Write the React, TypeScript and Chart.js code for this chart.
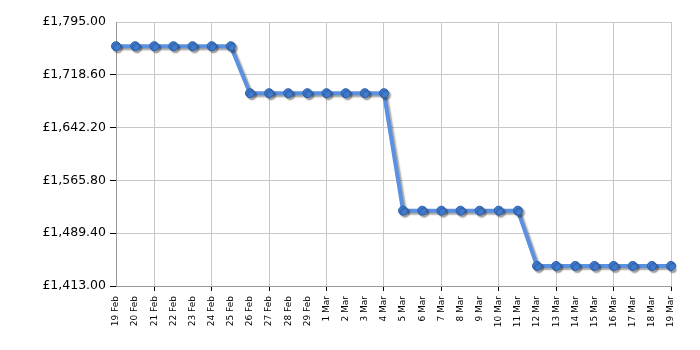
import React, { useEffect, useRef } from "react";
import { Chart, registerables } from "chart.js";

Chart.register(...registerables);

const categories = [
  "19 Feb", "20 Feb", "21 Feb", "22 Feb", "23 Feb", "24 Feb", "25 Feb",
  "26 Feb", "27 Feb", "28 Feb", "29 Feb", "1 Mar", "2 Mar", "3 Mar", "4 Mar",
  "5 Mar", "6 Mar", "7 Mar", "8 Mar", "9 Mar", "10 Mar", "11 Mar",
  "12 Mar", "13 Mar", "14 Mar", "15 Mar", "16 Mar", "17 Mar", "18 Mar", "19 Mar",
];

const prices = [
  1759.99, 1759.99, 1759.99, 1759.99, 1759.99, 1759.99, 1759.99,
  1691.99, 1691.99, 1691.99, 1691.99, 1691.99, 1691.99, 1691.99, 1691.99,
  1521.99, 1521.99, 1521.99, 1521.99, 1521.99, 1521.99, 1521.99,
  1441.99, 1441.99, 1441.99, 1441.99, 1441.99, 1441.99, 1441.99, 1441.99,
];

const yTicks = [1413.0, 1489.4, 1565.8, 1642.2, 1718.6, 1795.0];

const FONT = "'DejaVu Sans', Verdana, sans-serif";

const shadowPlugin = {
  id: "lineShadow",
  beforeDatasetsDraw(chart: any) {
    const ctx = chart.ctx;
    ctx.save();
    ctx.shadowColor = "rgba(0,0,0,0.35)";
    ctx.shadowOffsetX = 2;
    ctx.shadowOffsetY = 2;
    ctx.shadowBlur = 1.5;
  },
  afterDatasetsDraw(chart: any) {
    chart.ctx.restore();
  },
};

export default function App() {
  const ref = useRef<HTMLCanvasElement>(null);

  useEffect(() => {
    document.body.style.margin = "0";
    const canvas = ref.current!;
    const chart = new Chart(canvas, {
      type: "line",
      data: {
        labels: categories,
        datasets: [
          {
            data: prices,
            borderColor: "#5b91e0",
            borderWidth: 4,
            tension: 0,
            pointRadius: 4.5,
            pointBackgroundColor: "#3f7bd0",
            pointBorderColor: "#2d5fa8",
            pointBorderWidth: 1,
          },
        ],
      },
      options: {
        responsive: false,
        animation: false,
        layout: { padding: { top: 22, right: 29, bottom: 0, left: 0 } },
        plugins: {
          legend: { display: false },
          tooltip: { enabled: false },
        },
        scales: {
          x: {
            offset: false,
            grid: {
              color: (c: any) => (c.index % 3 === 2 ? "#c8c8c8" : "rgba(0,0,0,0)"),
              tickColor: (c: any) => (c.index % 3 === 2 ? "#000" : "rgba(0,0,0,0)"),
              tickLength: 5,
              lineWidth: 1,
            },
            border: { color: "#999", width: 1 },
            ticks: {
              autoSkip: false,
              maxRotation: 90,
              minRotation: 90,
              padding: 5,
              color: "#000",
              font: { family: FONT, size: 9 },
            },
            afterFit: (s: any) => {
              s.height = 64;
            },
          },
          y: {
            min: 1413,
            max: 1795,
            afterBuildTicks: (s: any) => {
              s.ticks = yTicks.map((v) => ({ value: v }));
            },
            grid: {
              color: "#c8c8c8",
              tickColor: (c: any) => (c.index === yTicks.length - 1 ? "rgba(0,0,0,0)" : "#000"),
              tickLength: 6,
            },
            border: { color: "#999", width: 1 },
            ticks: {
              padding: 4,
              color: "#000",
              font: { family: FONT, size: 12.5 },
              callback: (v: any) =>
                "£" +
                Number(v).toLocaleString("en-GB", {
                  minimumFractionDigits: 2,
                  maximumFractionDigits: 2,
                }),
            },
            afterFit: (s: any) => {
              s.width = 116;
            },
          },
        },
      },
      plugins: [shadowPlugin],
    });
    return () => chart.destroy();
  }, []);

  return <canvas ref={ref} width={700} height={350} style={{ display: "block" }} />;
}
